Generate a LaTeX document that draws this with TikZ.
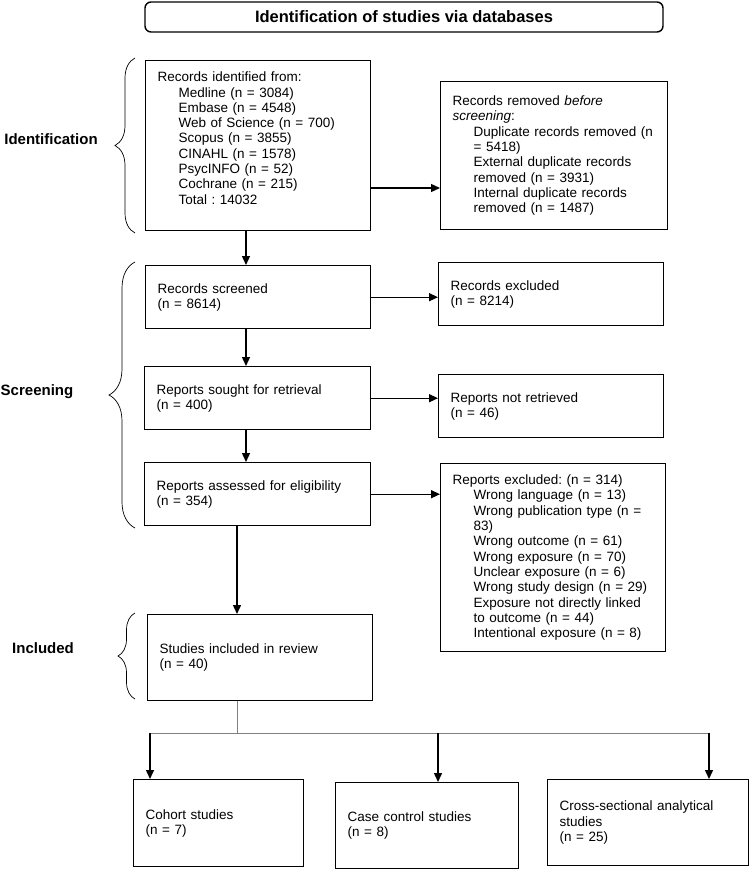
\documentclass[tikz,border=0pt]{standalone}
\usepackage{fontspec}
\setmainfont{Liberation Sans}
\usetikzlibrary{arrows.meta, decorations.pathreplacing}
\newcommand{\indline}{\hspace*{21pt}}
\frenchspacing

\begin{document}
\begin{tikzpicture}[x=1pt, y=-1pt, font=\fontsize{13.5}{15.3}\selectfont]
    % Define styles
    \tikzstyle{box}=[draw, line width=1.4pt, align=left, inner xsep=12pt, inner ysep=0pt, anchor=north west]
    \tikzstyle{titlebox}=[draw, line width=1.4pt, rounded corners=6pt, font=\bfseries\fontsize{16.5}{20}\selectfont]
    \tikzstyle{stage}=[font=\bfseries\fontsize{15}{18}\selectfont]
    \tikzstyle{arrow}=[draw, line width=1.4pt, -{Triangle[length=9pt, width=8pt]}]
    \tikzstyle{link}=[draw=gray, line width=0.9pt]
    \tikzstyle{stagebrace}=[draw, decorate, line width=0.7pt]

    \useasboundingbox (0,0) rectangle (749,870);

    % Title
    \node[titlebox, minimum width=518pt, minimum height=30pt] (title) at (404,17) {Identification of studies via databases};

    % Identification
    \node[box, text width=201pt, minimum height=170pt] (ident) at (145,60) {Records identified from:\\
        \indline Medline (n = 3084)\\
        \indline Embase (n = 4548)\\
        \indline Web of Science (n = 700)\\
        \indline Scopus (n = 3855)\\
        \indline CINAHL (n = 1578)\\
        \indline PsycINFO (n = 52)\\
        \indline Cochrane (n = 215)\\
        \indline Total : 14032\\ \mbox{}};
    \node[box, text width=203pt, minimum height=148pt] (removed) at (440,81) {Records removed \textit{before}\\
        \textit{screening}:\\
        \indline Duplicate records removed (n\\
        \indline = 5418)\\
        \indline External duplicate records\\
        \indline removed (n = 3931)\\
        \indline Internal duplicate records\\
        \indline removed (n = 1487)};

    % Screening
    \node[box, text width=201pt, minimum height=63pt] (screened) at (145,265) {Records screened\\(n = 8614)};
    \node[box, text width=201pt, minimum height=63pt] (excluded) at (438,262) {Records excluded\\(n = 8214)};
    \node[box, text width=202pt, minimum height=63pt] (sought) at (144,366) {Reports sought for retrieval\\(n = 400)};
    \node[box, text width=201pt, minimum height=63pt] (notret) at (438,374) {Reports not retrieved\\(n = 46)};
    \node[box, text width=202pt, minimum height=63pt] (assessed) at (144,462) {Reports assessed for eligibility\\(n = 354)};
    \node[box, text width=201pt, minimum height=188pt] (repexcl) at (440,463) {Reports excluded: (n = 314)\\
        \indline Wrong language (n = 13)\\
        \indline Wrong publication type (n =\\
        \indline 83)\\
        \indline Wrong outcome (n = 61)\\
        \indline Wrong exposure (n = 70)\\
        \indline Unclear exposure (n = 6)\\
        \indline Wrong study design (n = 29)\\
        \indline Exposure not directly linked\\
        \indline to outcome (n = 44)\\
        \indline Intentional exposure (n = 8)};

    % Included
    \node[box, text width=201pt, minimum height=86pt] (incl) at (147,614) {Studies included in review\\(n = 40)};
    \node[box, text width=146pt, minimum height=87pt] (cohort) at (133,779) {Cohort studies\\(n = 7)};
    \node[box, text width=159pt, minimum height=86pt] (casectrl) at (335,782) {Case control studies\\(n = 8)};
    \node[box, text width=177pt, minimum height=86pt] (crosssec) at (547,779) {Cross-sectional analytical\\studies\\(n = 25)};

    % Stage labels and braces
    \node[stage] (lident) at (51,139) {Identification};
    \node[stage] (lscreen) at (37,392) {Screening};
    \node[stage] (lincl) at (43,648) {Included};
    \foreach \t/\b/\a in {58/233/20, 262/528/26, 613/699/17}
        \draw[stagebrace, decoration={brace, amplitude=\a pt}] (135,\b) -- (135,\t);

    % Draw the arrows
    \coordinate (spine) at (246,0);
    \coordinate (spinetwo) at (237,0);
    \foreach \a/\b in {ident/screened, screened/sought, sought/assessed}
        \draw[arrow] (\a.south -| spine) -- (\b.north -| spine);
    \draw[arrow] (assessed.south -| spinetwo) -- (incl.north -| spinetwo);

    \coordinate (idout) at (370,188);
    \draw[arrow] (idout) -- (idout -| removed.west);
    \foreach \a/\b in {screened/excluded, sought/notret, assessed/repexcl}
        \draw[arrow] (\a.east) -- (\a.east -| \b.west);

    % Split into study designs
    \coordinate (fork) at (237,733);
    \foreach \x/\name in {150/cohort, 438/casectrl, 709/crosssec}
        \coordinate (f\name) at (\x,733);
    \draw[link] (incl.south -| fork) -- (fork);
    \draw[link] (fcohort) -- (fcrosssec);
    \foreach \name in {cohort, casectrl, crosssec}
        \draw[arrow] (f\name) -- (f\name |- \name.north);

\end{tikzpicture}
\end{document}
